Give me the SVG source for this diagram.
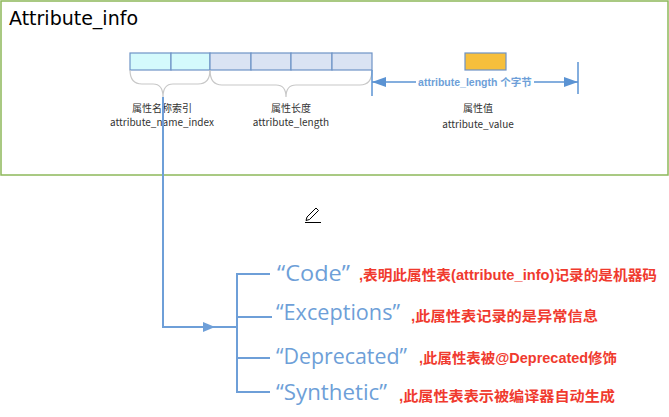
<svg xmlns="http://www.w3.org/2000/svg" width="669" height="417" viewBox="0 0 669 417">
<defs>
<style>
.cell{stroke:#6E93C6;stroke-width:1.2}
.c1{fill:#D4FAFC}
.c2{fill:#DAE3F3}
.brace{fill:none;stroke:#C8C8C8;stroke-width:1.2}
.lbl{font-family:"Noto Sans CJK SC","Liberation Sans",sans-serif;font-size:10px;fill:#333;text-anchor:middle}
.blue{stroke:#6E9FD8;stroke-width:2;fill:none}
.kw{font-family:"Open Sans","Noto Sans CJK SC",sans-serif;font-size:21px;fill:#6E9FD8}
.desc{font-family:"Liberation Sans","Noto Sans CJK SC",sans-serif;font-size:14px;fill:#F03A2E;font-weight:bold}
</style>
<marker id="ah" markerWidth="12" markerHeight="10" refX="12" refY="5" orient="auto" markerUnits="userSpaceOnUse">
<path d="M0,0 L12,5 L0,10 Z" fill="#6E9FD8"/>
</marker>
<marker id="ah2" markerWidth="14" markerHeight="10" refX="14" refY="5" orient="auto-start-reverse" markerUnits="userSpaceOnUse">
<path d="M0,0 L14,5 L0,10 Z" fill="#5B93D3"/>
</marker>
</defs>
<rect x="1" y="1" width="667" height="174" fill="#FFFFFF" stroke="#8DB85A" stroke-width="1.5"/>
<text x="9" y="25" font-family="'DejaVu Sans',sans-serif" font-size="19" fill="#000" textLength="129" lengthAdjust="spacingAndGlyphs">Attribute_info</text>

<g id="name_index">
<rect class="cell c1" x="130" y="53" width="41" height="17"/>
<rect class="cell c1" x="171" y="53" width="39" height="17"/>
<path class="brace" d="M130,70 Q130,84 142,84 L153,84 Q163,84 163,97 Q163,84 173,84 L198,84 Q210,84 210,70"/>
<text class="lbl" x="162" y="112" font-size="11">属性名称索引</text>
<text class="lbl" x="162" y="126">attribute_name_index</text>
</g>

<g id="length">
<rect class="cell c2" x="210" y="53" width="41" height="17"/>
<rect class="cell c2" x="251" y="53" width="40" height="17"/>
<rect class="cell c2" x="291" y="53" width="41" height="17"/>
<rect class="cell c2" x="332" y="53" width="40" height="17"/>
<path class="brace" d="M210,70 Q210,85 222,85 L276,85 Q286,85 286,97 Q286,85 296,85 L360,85 Q372,85 372,70"/>
<text class="lbl" x="291" y="112" font-size="11">属性长度</text>
<text class="lbl" x="291" y="126">attribute_length</text>
</g>

<g id="value">
<rect x="465" y="53" width="41" height="17" fill="#F6BF3C" stroke="#6E93C6" stroke-width="1.2"/>
<line x1="372" y1="70" x2="372" y2="96" stroke="#5B93D3" stroke-width="1.5"/>
<line x1="578" y1="62" x2="578" y2="94" stroke="#5B93D3" stroke-width="1.5"/>
<line x1="372" y1="82" x2="578" y2="82" stroke="#5B93D3" stroke-width="1.5" marker-start="url(#ah2)" marker-end="url(#ah2)"/>
<rect x="416" y="75" width="118" height="14" fill="#FFFFFF"/>
<text x="475" y="86" text-anchor="middle" font-family="'Liberation Sans','Noto Sans CJK SC',sans-serif" font-size="10.5" font-weight="bold" fill="#6E9FD8">attribute_length 个字节</text>
<text class="lbl" x="478" y="112" font-size="11">属性值</text>
<text class="lbl" x="478" y="128">attribute_value</text>
</g>

<g id="connectors">
<path class="blue" d="M163,97 L163,327 L215,327" marker-end="url(#ah)"/>
<line class="blue" x1="213" y1="327" x2="237" y2="327"/>
<path class="blue" d="M270,274 L237,274 L237,392 L270,392"/>
<line class="blue" x1="237" y1="317" x2="272" y2="317"/>
<line class="blue" x1="237" y1="358" x2="270" y2="358"/>
</g>

<g id="code">
<text class="kw" x="277" y="281" textLength="73" lengthAdjust="spacingAndGlyphs">“Code”</text>
<text class="desc" x="359" y="280" textLength="298" lengthAdjust="spacingAndGlyphs">,表明此属性表(attribute_info)记录的是机器码</text>
</g>
<g id="exceptions">
<text class="kw" x="276" y="320" textLength="124" lengthAdjust="spacingAndGlyphs">“Exceptions”</text>
<text class="desc" x="411" y="321" textLength="187" lengthAdjust="spacingAndGlyphs">,此属性表记录的是异常信息</text>
</g>
<g id="deprecated">
<text class="kw" x="276" y="364" textLength="131" lengthAdjust="spacingAndGlyphs">“Deprecated”</text>
<text class="desc" x="419" y="363" textLength="198" lengthAdjust="spacingAndGlyphs">,此属性表被@Deprecated修饰</text>
</g>
<g id="synthetic">
<text class="kw" x="276" y="400" textLength="111" lengthAdjust="spacingAndGlyphs">“Synthetic”</text>
<text class="desc" x="399" y="401" textLength="216" lengthAdjust="spacingAndGlyphs">,此属性表表示被编译器自动生成</text>
</g>

<g id="pencil">
<path d="M307,217 L316,208 L318.5,210.5 L309.5,219.5 L306,220.5 Z" fill="#FFFFFF" stroke="#000" stroke-width="1"/>
<line x1="305" y1="222.5" x2="321" y2="222.5" stroke="#000" stroke-width="1"/>
</g>
</svg>
